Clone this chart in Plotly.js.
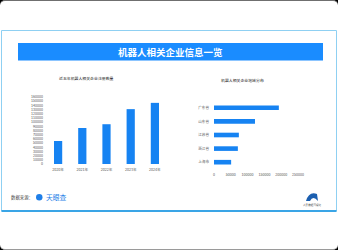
<!DOCTYPE html>
<html><head><meta charset="utf-8">
<script src="https://cdn.plot.ly/plotly-3.0.1.min.js"></script>
<style>
html,body{margin:0;padding:0;background:#000;width:338px;height:250px;overflow:hidden;}
#frame{position:absolute;left:0;top:0;width:338px;height:250px;box-sizing:border-box;background:#fff;border-radius:5px;border-top:1px solid #6f6f6f;border-bottom:1px solid #9a9a9a;}
#chart{position:absolute;left:0;top:0;width:338px;height:250px;}
</style></head>
<body><div id="frame"></div><div id="chart"></div>
<script>
const years = ['2020年','2021年','2022年','2023年','2024年'];
const regCounts = [55000, 86000, 95000, 131000, 146000];
const provinces = ['广东省','山东省','江苏省','浙江省','上海市'];
const provCounts = [193000, 122000, 74000, 71000, 51000];
const mainTitle = '机器人相关企业信息一览';
const leftTitle = '近五年机器人相关企业注册数量';
const rightTitle = '机器人相关企业地域分布';

const W = 338, H = 250;
const px = v => v / W;
const py = v => 1 - v / H;
const FONT = '"Noto Sans CJK SC", "Noto Sans", sans-serif';
const barColor = '#1683f2';

const traces = [
  {type:'bar', x: years, y: regCounts, xaxis:'x', yaxis:'y', marker:{color:barColor}, hoverinfo:'none'},
  {type:'bar', orientation:'h', x: provCounts, y: provinces, xaxis:'x2', yaxis:'y2', marker:{color:barColor}, hoverinfo:'none'}
];

const tickFont = {family: FONT, size: 3.6, color: '#555'};

const layout = {
  width: W, height: H,
  margin: {l:0, r:0, t:0, b:0},
  paper_bgcolor: 'rgba(0,0,0,0)', plot_bgcolor: 'rgba(0,0,0,0)',
  showlegend: false,
  bargap: 0.66,
  xaxis: {domain:[px(46), px(167)], anchor:'y', showgrid:false, showline:false, zeroline:false,
          tickfont: tickFont, ticks:'', ticklabelstandoff: 2, fixedrange:true},
  yaxis: {domain:[py(164), py(97)], anchor:'x', range:[0,160000], dtick:10000, showgrid:false,
          zeroline:false, showline:false, tickfont: tickFont, ticks:'', ticklabelstandoff: 2, tickformat:'d'},
  xaxis2: {domain:[px(214), px(298)], anchor:'y2', range:[0,250000], dtick:50000, showgrid:false,
           zeroline:false, showline:false, tickfont: tickFont, ticks:'', ticklabelstandoff: 2, tickformat:'d'},
  yaxis2: {domain:[py(169), py(101)], anchor:'x2', autorange:'reversed', showgrid:false,
           zeroline:false, showline:false, tickfont: tickFont, ticks:'', ticklabelstandoff: 4},
  shapes: [
    {type:'rect', xref:'paper', yref:'paper', x0:px(1.5), x1:px(336.5), y0:py(211), y1:py(30.5),
     line:{color:'#8fd0f2', width:1}, fillcolor:'#fff', layer:'below'},
    {type:'line', xref:'paper', yref:'paper', x0:px(1.5), x1:px(336.5), y0:py(211), y1:py(211),
     line:{color:'#3aa5e6', width:2}, layer:'below'},
    {type:'rect', xref:'paper', yref:'paper', x0:px(18), x1:px(323), y0:py(60.5), y1:py(43),
     line:{width:0}, fillcolor:'#1a8cff', layer:'below'},
    {type:'circle', xref:'paper', yref:'paper', x0:px(36), x1:px(42.5), y0:py(200.5), y1:py(194),
     line:{width:0}, fillcolor:'#1f7fe8', layer:'above'},
    {type:'path', xref:'paper', yref:'paper',
     path: `M ${px(306)} ${py(201)} Q ${px(309)} ${py(191)} ${px(317)} ${py(194)} L ${px(318)} ${py(201)} Q ${px(313)} ${py(195)} ${px(310)} ${py(201)} Z`,
     line:{width:0}, fillcolor:'#1c5fb0'}
  ],
  annotations: [
    {xref:'paper', yref:'paper', x:px(170), y:py(52), text:'<b>'+mainTitle+'</b>', showarrow:false,
     font:{family:FONT, size:9.5, color:'#fff'}, xanchor:'center', yanchor:'middle'},
    {xref:'paper', yref:'paper', x:px(57), y:py(77.5), text:leftTitle, showarrow:false,
     font:{family:FONT, size:3.9, color:'#222'}, xanchor:'left', yanchor:'middle'},
    {xref:'paper', yref:'paper', x:px(219), y:py(80), text:rightTitle, showarrow:false,
     font:{family:FONT, size:3.9, color:'#222'}, xanchor:'left', yanchor:'middle'},
    {xref:'paper', yref:'paper', x:px(9), y:py(197.5), text:'数据来源：', showarrow:false,
     font:{family:FONT, size:4.4, color:'#444'}, xanchor:'left', yanchor:'middle'},
    {xref:'paper', yref:'paper', x:px(43.5), y:py(197.3), text:'天眼查', showarrow:false,
     font:{family:FONT, size:6.8, color:'#1f7fe8'}, xanchor:'left', yanchor:'middle'},
    {xref:'paper', yref:'paper', x:px(312), y:py(204.5), text:'人民数据可视化', showarrow:false,
     font:{family:FONT, size:2.6, color:'#333'}, xanchor:'center', yanchor:'middle'}
  ]
};

Plotly.newPlot('chart', traces, layout, {staticPlot:true, displayModeBar:false});
</script></body></html>
